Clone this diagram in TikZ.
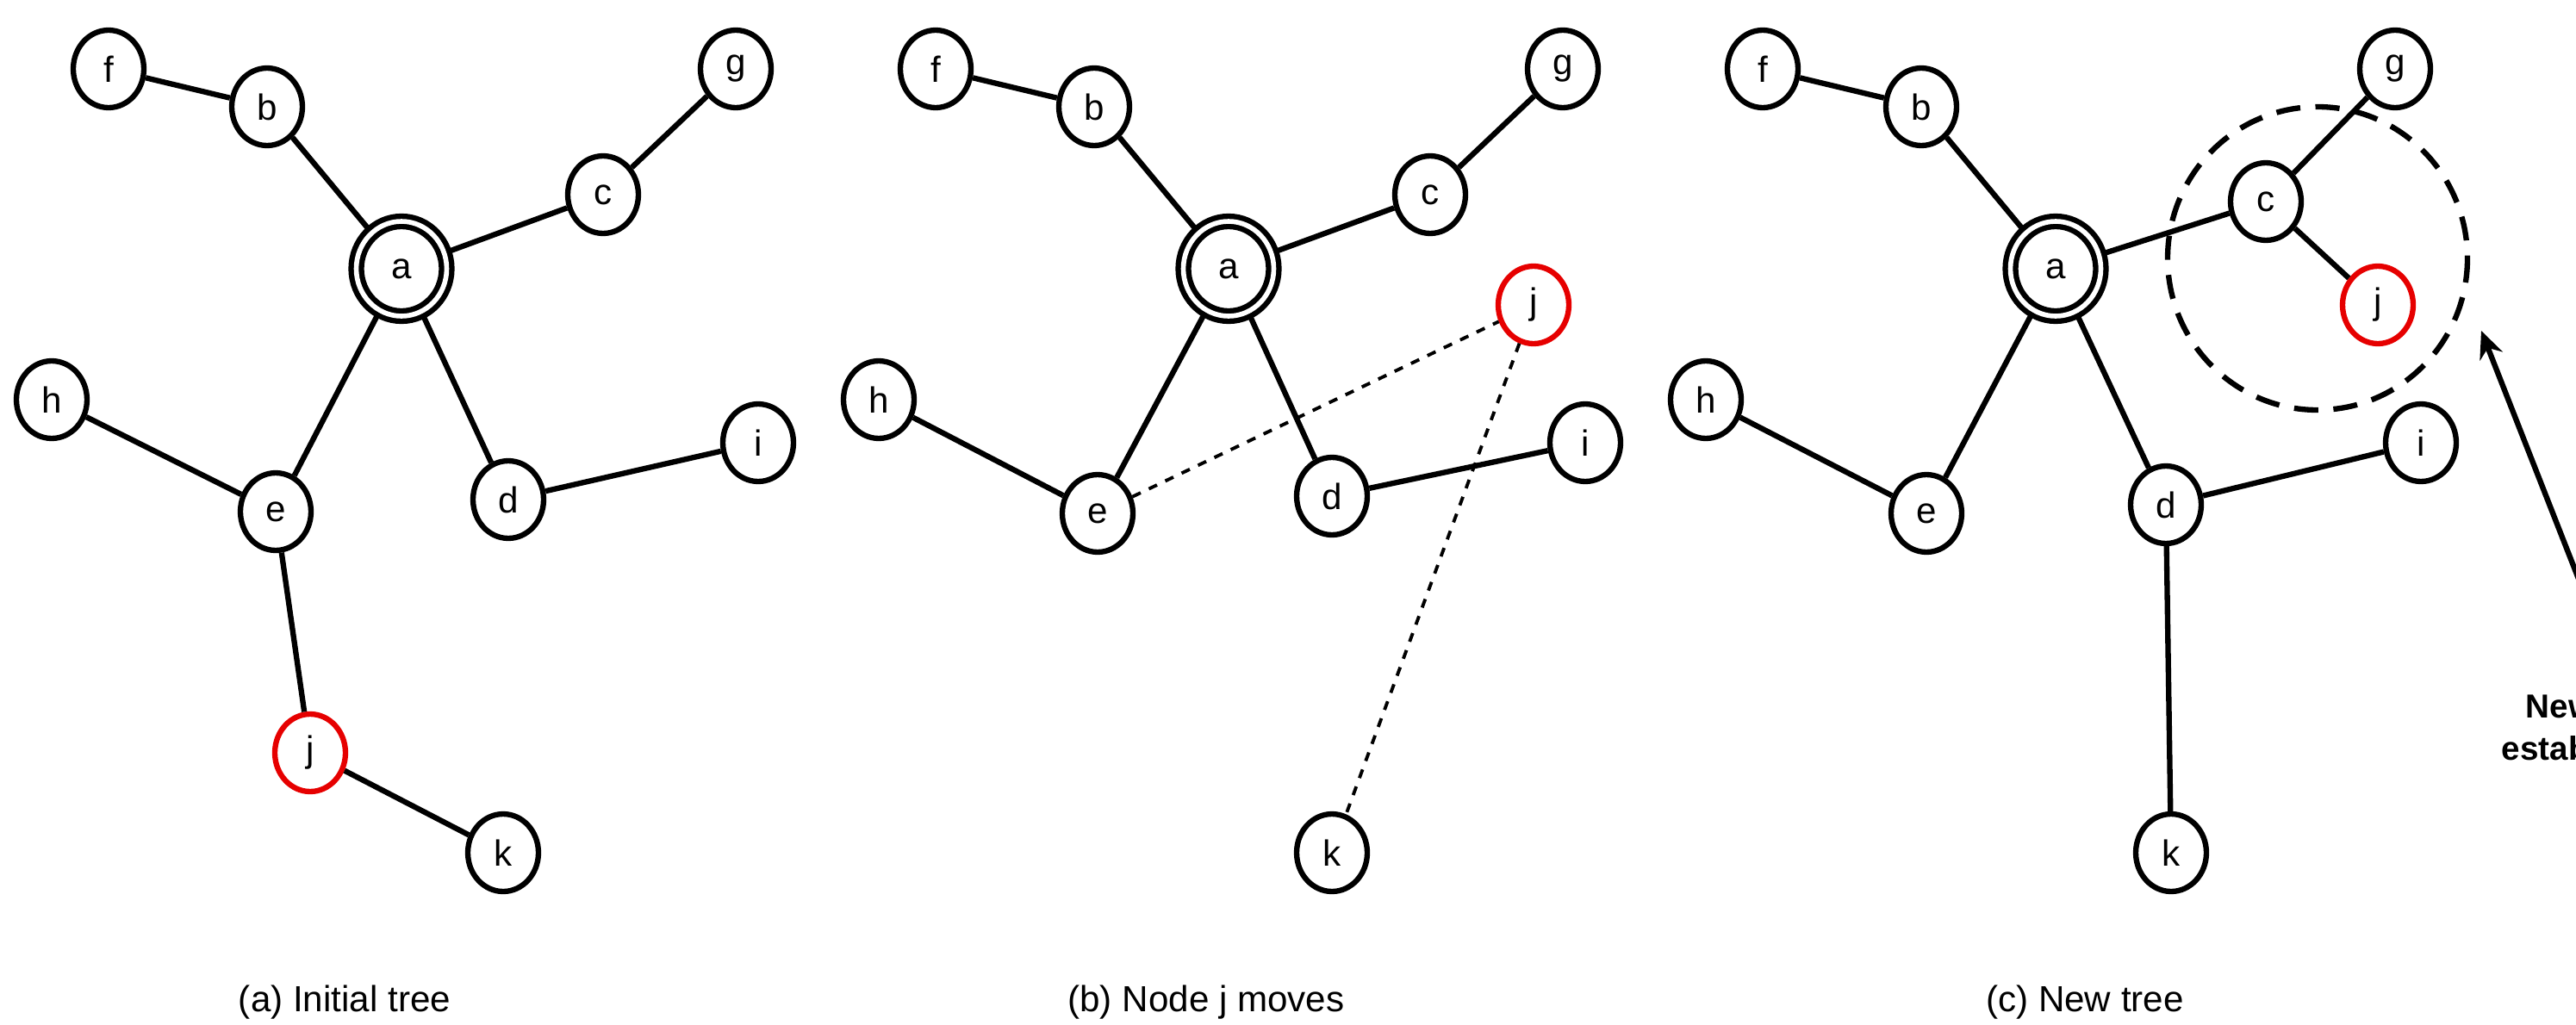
\documentclass[tikz,border=0pt]{standalone}
\usepackage{fontspec}
\setmainfont{Liberation Sans}
\usetikzlibrary{shapes.geometric,arrows.meta}
\begin{document}
\begin{tikzpicture}[x=0.02cm,y=-0.02cm,
  nd/.style={ellipse,draw=black,line width=1.8pt,minimum width=0.82cm,minimum height=0.9cm,inner sep=0pt,font=\fontsize{12}{14}\selectfont,fill=white},
  rednd/.style={nd,draw={rgb,255:red,230;green,0;blue,0}},
  root/.style={nd,double=white,double distance=1.6pt,minimum width=1.05cm,minimum height=1.1cm},
  ed/.style={line width=1.8pt},
  dl/.style={line width=1.1pt,dashed},
  captxt/.style={font=\fontsize{12}{14}\selectfont}]
\useasboundingbox (0,0) rectangle (1495,595);
% panel a
\node[nd] (f) at (63,40) {f}; \node[nd] (b) at (155,62) {b};
\node[nd] (g) at (427,40) {g}; \node[nd] (c) at (350,113) {c};
\node[nd] (h) at (30,232) {h}; \node[nd] (e) at (160,297) {e};
\node[nd] (d) at (295,290) {d}; \node[nd] (i) at (440,257) {i};
\node[rednd] (j) at (180,437) {j}; \node[nd] (k) at (292,495) {k};
\node[root] (a) at (233,156) {a};
\draw[ed] (f)--(b) (b)--(a) (a)--(c) (c)--(g) (a)--(e) (a)--(d) (h)--(e) (d)--(i) (e)--(j) (j)--(k);
% panel b
\node[nd] (f2) at (543,40) {f}; \node[nd] (b2) at (635,62) {b};
\node[nd] (g2) at (907,40) {g}; \node[nd] (c2) at (830,113) {c};
\node[nd] (h2) at (510,232) {h}; \node[nd] (e2) at (637,298) {e};
\node[nd] (d2) at (773,288) {d}; \node[nd] (i2) at (920,257) {i};
\node[rednd] (j2) at (890,177) {j}; \node[nd] (k2) at (773,495) {k};
\node[root] (a2) at (713,156) {a};
\draw[ed] (f2)--(b2) (b2)--(a2) (a2)--(c2) (c2)--(g2) (a2)--(e2) (a2)--(d2) (h2)--(e2) (d2)--(i2);
\draw[dl] (e2)--(j2) (j2)--(k2);
% panel c
\draw[line width=1.8pt,dash pattern=on 8pt off 5pt] (1345,150) circle [x radius=87,y radius=88];
\node[nd] (f3) at (1023,40) {f}; \node[nd] (b3) at (1115,62) {b};
\node[nd] (g3) at (1390,40) {g}; \node[nd] (c3) at (1315,117) {c};
\node[nd] (h3) at (990,232) {h}; \node[nd] (e3) at (1118,298) {e};
\node[nd] (d3) at (1257,293) {d}; \node[nd] (i3) at (1405,257) {i};
\node[rednd] (j3) at (1380,177) {j}; \node[nd] (k3) at (1260,495) {k};
\node[root] (a3) at (1193,156) {a};
\draw[ed] (f3)--(b3) (b3)--(a3) (a3)--(c3) (c3)--(g3) (c3)--(j3) (a3)--(e3) (a3)--(d3) (h3)--(e3) (d3)--(i3) (d3)--(k3);
\node[font=\bfseries\fontsize{11}{14}\selectfont,align=center] (nl) at (1505,422) {New link\\established};
\coordinate (tip) at (1440,192);
\coordinate (tail) at (1500,345);
\draw[ed,-{Stealth[length=9pt,width=8pt]}] (tail)--(tip);
% captions
\node[captxt] (ca) at (200,582) {(a) Initial tree};
\node[captxt] (cb) at (700,582) {(b) Node j moves};
\node[captxt] (cc) at (1210,582) {(c) New tree};
\end{tikzpicture}
\end{document}
